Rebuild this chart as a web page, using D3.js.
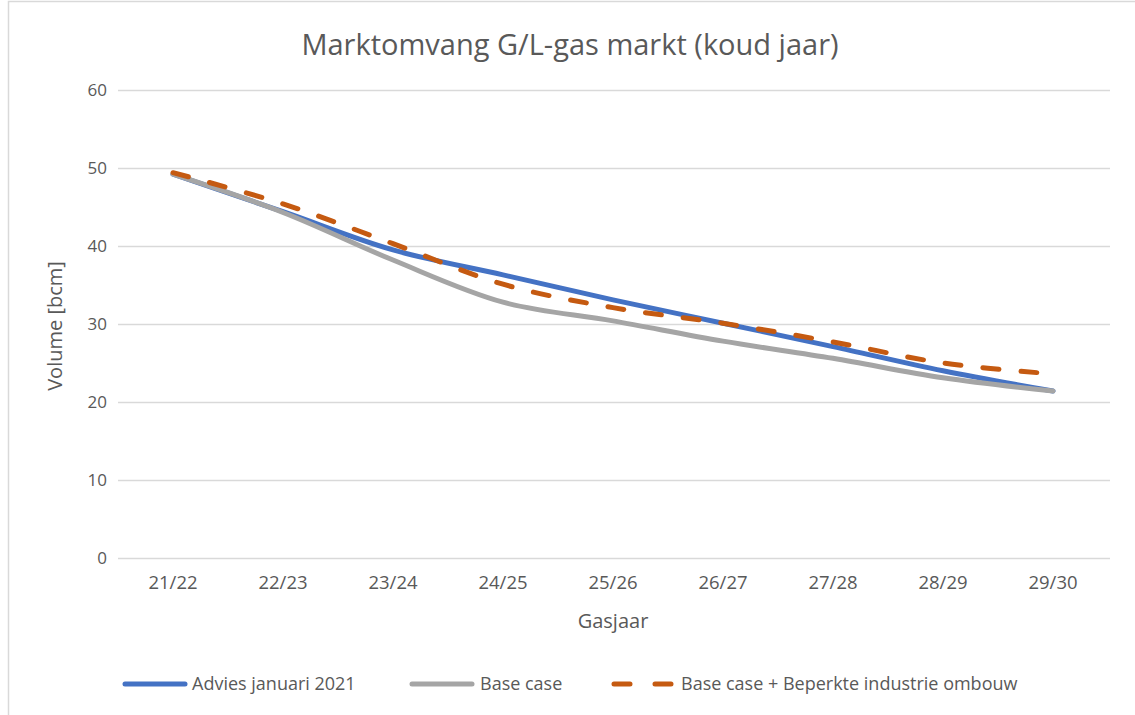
<!DOCTYPE html>
<html>
<head>
<meta charset="utf-8">
<script src="https://cdn.jsdelivr.net/npm/d3@7"></script>
<style>
  body { margin: 0; background: #fff; }
  text { font-family: "Open Sans", sans-serif; fill: #595959; }
</style>
</head>
<body>
<svg id="chart"></svg>
<script>
// ========== DATA ==========
var years = ['21/22', '22/23', '23/24', '24/25', '25/26', '26/27', '27/28', '28/29', '29/30'];
var advies = [49.2, 44.4, 39.5, 36.3, 33.1, 30.1, 27.1, 24.0, 21.4];
var baseCase = [49.2, 44.3, 38.2, 32.8, 30.4, 27.8, 25.6, 23.1, 21.4];
var beperkt = [49.4, 45.4, 40.3, 35.1, 32.1, 30.1, 27.7, 25.0, 23.6];
var yTicks = [0, 10, 20, 30, 40, 50, 60];

var series = [
	{ name: 'Advies januari 2021', values: advies, color: '#4472C4', dash: null },
	{ name: 'Base case', values: baseCase, color: '#A5A5A5', dash: null },
	{ name: 'Base case + Beperkte industrie ombouw', values: beperkt, color: '#C55A11', dash: '16,22' }
];

// ========== CHART ==========
var width = 1135;
var height = 715;
var grid_color = '#d9d9d9';

var svg = d3.select('svg#chart')
	.attr('width', width)
	.attr('height', height);

// chart frame (left and top edges visible)
svg.append('rect')
	.attr('x', 8.5)
	.attr('y', 1.5)
	.attr('width', width + 20)
	.attr('height', height + 20)
	.attr('fill', 'none')
	.attr('stroke', grid_color)
	.attr('stroke-width', 1.5);

var x = d3.scaleBand()
	.domain(years)
	.range([118, 1108]);
var y = d3.scaleLinear()
	.domain([0, 60])
	.range([558, 90]);

// gridlines
svg.append('g')
	.selectAll('line')
	.data(yTicks)
	.enter().append('line')
	.attr('x1', 118)
	.attr('x2', 1110)
	.attr('y1', function(d) { return Math.round(y(d)) + 0.5; })
	.attr('y2', function(d) { return Math.round(y(d)) + 0.5; })
	.attr('stroke', grid_color)
	.attr('stroke-width', 1.5);

// y axis labels
var yAxis = svg.append('g')
	.attr('transform', 'translate(107,0)')
	.call(d3.axisLeft(y).tickValues(yTicks).tickSize(0).tickPadding(0));
yAxis.select('.domain').remove();
yAxis.selectAll('text')
	.attr('fill', '#595959')
	.style('font-size', '17px')
	.style('font-family', '"Open Sans", sans-serif');

// x axis labels
var xAxis = svg.append('g')
	.attr('transform', 'translate(0,576)')
	.call(d3.axisBottom(x).tickSize(0).tickPadding(0));
xAxis.select('.domain').remove();
xAxis.selectAll('text')
	.attr('fill', '#595959')
	.style('font-size', '18.5px')
	.style('font-family', '"Open Sans", sans-serif');

// axis titles
svg.append('text')
	.attr('x', 613)
	.attr('y', 628)
	.attr('text-anchor', 'middle')
	.style('font-size', '20px')
	.text('Gasjaar');

svg.append('text')
	.attr('transform', 'translate(62,326)rotate(-90)')
	.attr('text-anchor', 'middle')
	.style('font-size', '20px')
	.text('Volume [bcm]');

// title
svg.append('text')
	.attr('x', 570)
	.attr('y', 55)
	.attr('text-anchor', 'middle')
	.style('font-size', '29px')
	.text('Marktomvang G/L-gas markt (koud jaar)');

// lines
var line = d3.line()
	.x(function(d, i) { return x(years[i]) + x.bandwidth() / 2; })
	.y(function(d) { return y(d); })
	.curve(d3.curveCatmullRom.alpha(0.5));

svg.append('g')
	.selectAll('path')
	.data(series)
	.enter().append('path')
	.attr('d', function(d) { return line(d.values); })
	.attr('fill', 'none')
	.attr('stroke', function(d) { return d.color; })
	.attr('stroke-width', 5)
	.attr('stroke-linecap', 'round')
	.attr('stroke-linejoin', 'round')
	.attr('stroke-dasharray', function(d) { return d.dash; });

// legend
var legendX = [125, 412, 614];
var legend = svg.append('g')
	.selectAll('g')
	.data(series)
	.enter().append('g')
	.attr('transform', function(d, i) { return 'translate(' + legendX[i] + ',684)'; });

legend.append('line')
	.attr('x1', 0)
	.attr('x2', 60)
	.attr('y1', 0)
	.attr('y2', 0)
	.attr('stroke', function(d) { return d.color; })
	.attr('stroke-width', 5)
	.attr('stroke-linecap', 'round')
	.attr('stroke-dasharray', function(d) { return d.dash ? '16,25' : null; });

legend.append('text')
	.attr('x', function(d, i) { return i === 1 ? 68 : 67; })
	.attr('y', 6)
	.style('font-size', '18px')
	.text(function(d) { return d.name; });
</script>
</body>
</html>
